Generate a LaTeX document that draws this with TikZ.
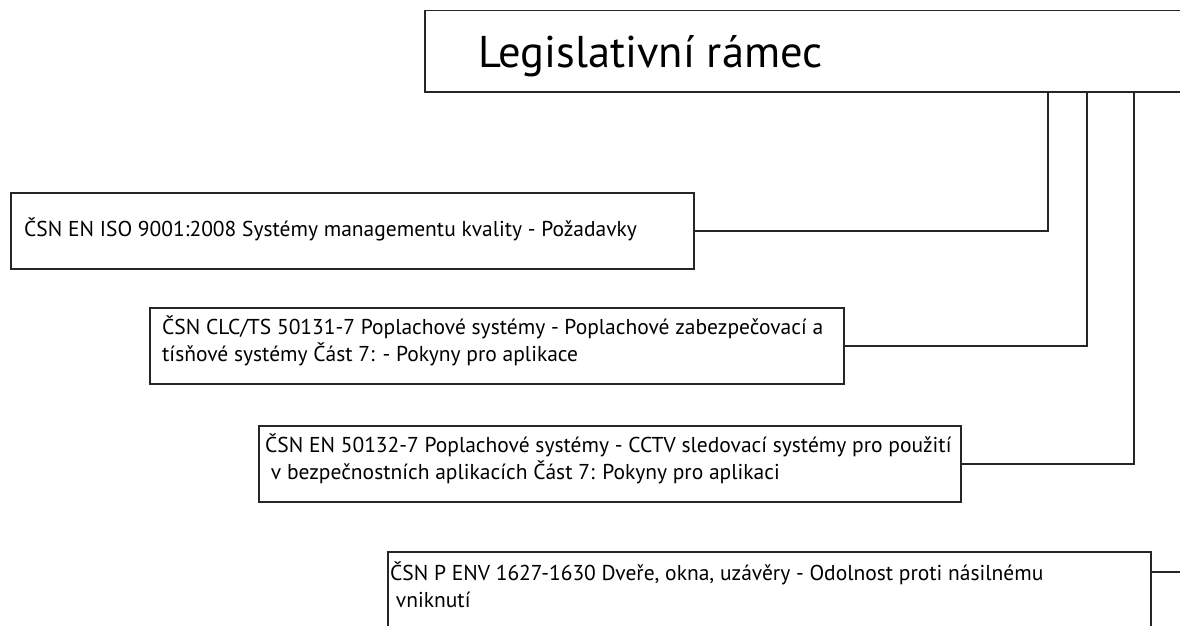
\documentclass[tikz,border=0pt]{standalone}
\usepackage{fontspec}
\setmainfont{PT Sans}
\begin{document}
\begin{tikzpicture}[x=1pt,y=-1pt,
  box/.style={draw=black!85, line width=1.5pt, rectangle, inner sep=0pt, anchor=north west},
  txt/.style={anchor=base west, inner sep=0pt, font=\fontsize{21.5}{25}\selectfont},
  conn/.style={draw=black!85, line width=1.5pt}]
\useasboundingbox (0,0) rectangle (1180,626);
\clip (0,0) rectangle (1180,626);
\fill[white] (0,0) rectangle (1180,626);
% top box
\node[box, minimum width=800pt, minimum height=81pt] (top) at (424,10) {};
\node[anchor=base west, inner sep=0pt, font=\fontsize{44.5}{52}\selectfont] (ttop) at (478,67) {Legislativní rámec};
% boxes
\node[box, minimum width=683pt, minimum height=76pt] (b1) at (10,192) {};
\node[txt] (t1) at (24,236) {ČSN EN ISO 9001:2008 Systémy managementu kvality - Požadavky};
\node[box, minimum width=694pt, minimum height=76pt] (b2) at (149,307) {};
\node[txt] (t2a) at (162,334) {ČSN CLC/TS 50131-7 Poplachové systémy - Poplachové zabezpečovací a};
\node[txt] (t2b) at (162,361) {tísňové systémy Část 7: - Pokyny pro aplikace};
\node[box, minimum width=702pt, minimum height=76pt] (b3) at (258,425) {};
\node[txt] (t3a) at (265,452) {ČSN EN 50132-7 Poplachové systémy - CCTV sledovací systémy pro použití};
\node[txt] (t3b) at (265,479) {\ v bezpečnostních aplikacích Část 7: Pokyny pro aplikaci};
\node[box, minimum width=763pt, minimum height=120pt] (b4) at (387,551) {};
\node[txt] (t4a) at (390,580) {ČSN P ENV 1627-1630 Dveře, okna, uzávěry - Odolnost proti násilnému};
\node[txt] (t4b) at (390,607) {\ vniknutí};
% connectors
\coordinate (c1) at (1048,91);
\coordinate (c2) at (1087,91);
\coordinate (c3) at (1134,91);
\coordinate (c4) at (1190,91);
\coordinate (s4) at (1150,572);
\draw[conn] (b1.east) -| (c1);
\draw[conn] (b2.east) -| (c2);
\draw[conn] (b3.east) -| (c3);
\draw[conn] (s4) -| (c4);
\end{tikzpicture}
\end{document}
